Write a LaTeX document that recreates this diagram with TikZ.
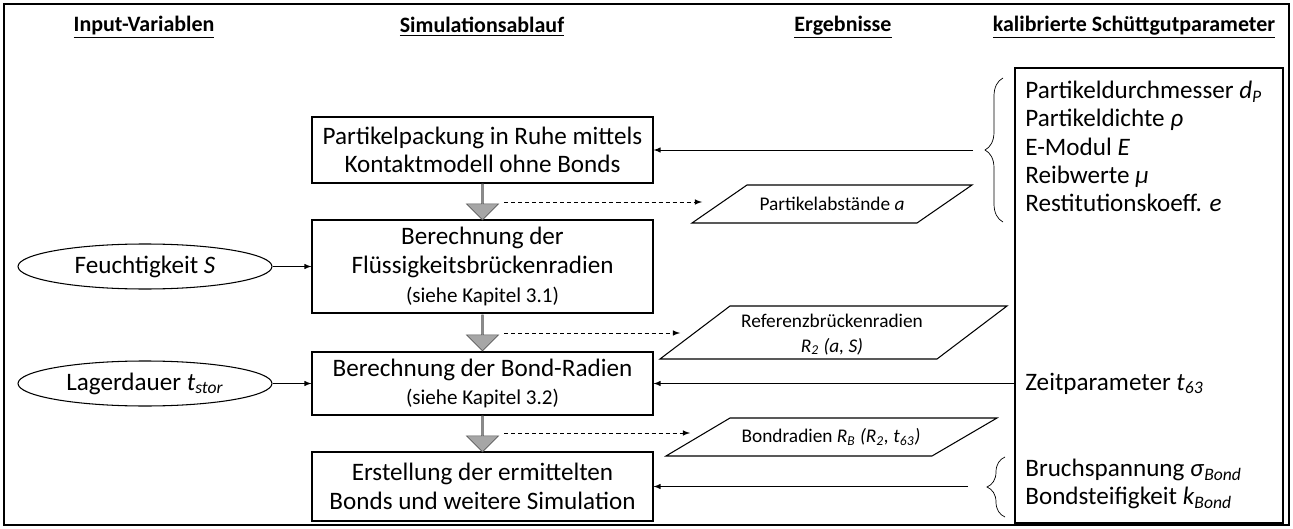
\documentclass[tikz,border=0pt]{standalone}
\usepackage{fontspec}
\setmainfont{Carlito}
\usetikzlibrary{shapes.geometric,shapes.arrows,decorations.pathreplacing}
\newcommand{\isub}[2]{\textit{#1}\textsubscript{\textit{#2}}}

\begin{document}
\begin{tikzpicture}[x=0.2mm, y=-0.2mm, >=latex,
        every node/.style={inner sep=0pt},
        box/.style={draw, line width=0.6pt, minimum width=68.2mm, align=center, font=\fontsize{14.3}{16.3}\selectfont},
        inp/.style={draw, ellipse, line width=0.6pt, minimum width=50.8mm, minimum height=9mm, font=\fontsize{14.3}{16.3}\selectfont},
        head/.style={font=\bfseries\fontsize{12.5}{14}\selectfont},
        res/.style={align=center, font=\fontsize{11}{14}\selectfont},
        param/.style={anchor=west, align=left, font=\fontsize{14.3}{16.1}\selectfont},
        flow/.style={single arrow, draw=black!65, fill=black!35, shape border rotate=270, minimum height=7.2mm, minimum width=6.4mm, single arrow head extend=1.4mm, inner sep=0pt},
        hint/.style={->, dash pattern=on 2.3pt off 1.7pt}]
            \useasboundingbox (0,0) rectangle (1293,529);
            \draw[line width=1pt] (4,4) rectangle (1289,525);

            % column heads
            \node[head] (hin) at (144,27) {\underline{Input-Variablen}};
            \node[head] (hsim) at (482,27) {\underline{Simulationsablauf}};
            \node[head] (herg) at (843,27) {\underline{Ergebnisse}};
            \node[head] (hkal) at (1134,27) {\underline{kalibrierte Schüttgutparameter}};

            % simulation steps
            \node[box, minimum height=13.2mm] (pack) at (482.5,150) {Partikelpackung in Ruhe mittels\\Kontaktmodell ohne Bonds};
            \node[box, minimum height=18.6mm] (fluid) at (482.5,266.5) {Berechnung der\\Flüssigkeitsbrückenradien\\{\fontsize{12}{13}\selectfont(siehe Kapitel 3.1)}};
            \node[box, minimum height=12.6mm] (bond) at (482.5,383.5) {Berechnung der Bond-Radien\\{\fontsize{12}{13}\selectfont(siehe Kapitel 3.2)}};
            \node[box, minimum height=13.8mm] (build) at (482.5,486.5) {Erstellung der ermittelten\\Bonds und weitere Simulation};
            \node[flow] (f1) at (482.5,201.5) {};
            \node[flow] (f2) at (482.5,332.5) {};
            \node[flow] (f3) at (482.5,433.5) {};

            % input variables
            \node[inp] (moist) at (145,266.5) {Feuchtigkeit \textit{S}};
            \node[inp] (store) at (145,383.5) {Lagerdauer \isub{t}{stor}};
            \draw[->] (moist) -- (fluid);
            \draw[->] (store) -- (bond);

            % results
            \draw[line width=0.6pt] (692,223) -- (747,185) -- (972,185) -- (917,223) -- cycle;
            \draw[line width=0.6pt] (660,359) -- (730,306) -- (1007,306) -- (937,359) -- cycle;
            \draw[line width=0.6pt] (666,456) -- (730,418) -- (997,418) -- (932,456) -- cycle;
            \node[res] (dist) at (832,204) {Partikelabstände \textit{a}};
            \node[res] (bridge) at (832,334.5) {Referenzbrückenradien\\\isub{R}{2} \textit{(a, S)}};
            \node[res] (radii) at (831,437) {Bondradien \isub{R}{B} \textit{(}\isub{R}{2}\textit{, }\isub{t}{63}\textit{)}};
            \coordinate (d1) at (504,202);
            \coordinate (e1) at (702,202);
            \coordinate (d2) at (504,333);
            \coordinate (e2) at (680,333);
            \coordinate (d3) at (504,433);
            \coordinate (e3) at (690,433);
            \draw[hint] (d1) -- (e1);
            \draw[hint] (d2) -- (e2);
            \draw[hint] (d3) -- (e3);

            % calibrated parameters
            \node[draw, line width=0.6pt, minimum width=53.6mm, minimum height=91mm] (cal) at (1149,295.5) {};
            \node[param] (mat) at (1025,146.5) {Partikeldurchmesser \isub{d}{P}\\Partikeldichte \textit{ρ}\\E-Modul \textit{E}\\Reibwerte \textit{μ}\\Restitutionskoeff. \textit{e}};
            \node[param] (time) at (1025,383.5) {Zeitparameter \isub{t}{63}};
            \node[param] (brk) at (1025,484) {Bruchspannung \isub{σ}{Bond}\\Bondsteifigkeit \isub{k}{Bond}};
            \draw[decorate, decoration={brace, amplitude=3.6mm}] (1003,222) -- (1003,78);
            \draw[decorate, decoration={brace, amplitude=3.6mm}] (1005,517) -- (1005,457);
            \coordinate (tip1) at (973,150);
            \coordinate (tip2) at (968,486.5);
            \draw[->] (tip1) -- (pack);
            \draw[->] (cal.west |- bond.east) -- (bond.east);
            \draw[->] (tip2) -- (build);
        \end{tikzpicture}
\end{document}
